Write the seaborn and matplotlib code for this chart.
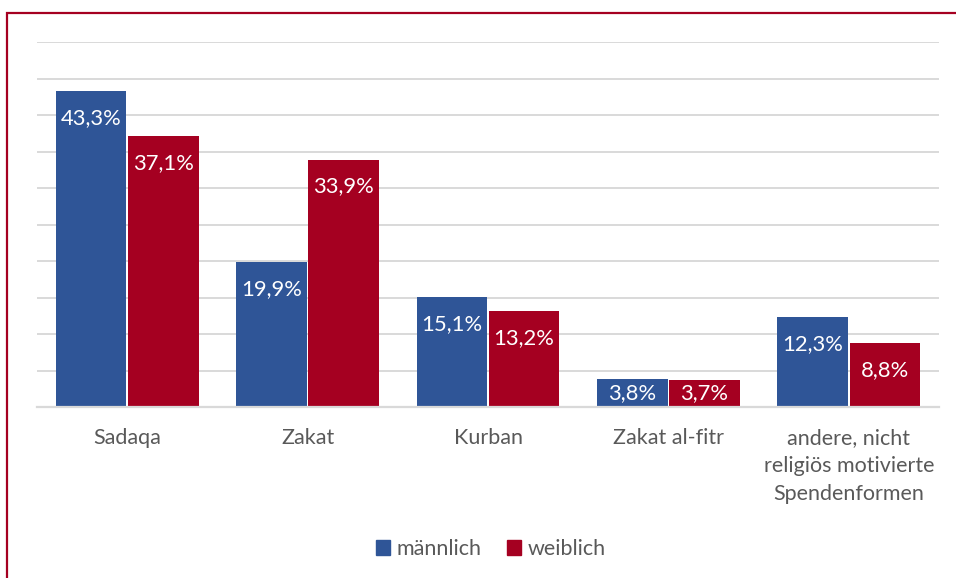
import matplotlib
matplotlib.use("Agg")
import matplotlib.pyplot as plt
import matplotlib.patches as mpatches
import seaborn as sns
import pandas as pd

categories = ["Sadaqa", "Zakat", "Kurban", "Zakat al-fitr",
              "andere, nicht\nreligiös motivierte\nSpendenformen"]
maennlich = [43.3, 19.9, 15.1, 3.8, 12.3]
weiblich = [37.1, 33.9, 13.2, 3.7, 8.8]
series = ["männlich", "weiblich"]
colors = ["#2F5597", "#A50021"]

df = pd.DataFrame({
    "Kategorie": categories * 2,
    "Wert": maennlich + weiblich,
    "Geschlecht": [series[0]] * len(categories) + [series[1]] * len(categories),
})

sns.set_theme(style="white")
plt.rcParams["font.family"] = ["Lato", "DejaVu Sans"]

W, H = 956, 578
fig = plt.figure(figsize=(W / 100, H / 100), dpi=100)
ax = fig.add_axes([37 / W, 1 - 407 / H, (939 - 37) / W, (407 - 42) / H])

sns.barplot(data=df, x="Kategorie", y="Wert", hue="Geschlecht",
            palette=colors, width=0.8, gap=0.02, ax=ax, legend=False,
            saturation=1, edgecolor="none")

ax.set_xlim(-0.5, len(categories) - 0.5)
ax.set_ylim(0, 50)
ax.set_yticks(range(0, 51, 5))
ax.yaxis.grid(True, color="#D9D9D9", linewidth=1.4)
ax.set_axisbelow(True)
ax.tick_params(axis="y", left=False, labelleft=False)
ax.tick_params(axis="x", bottom=False, pad=9, labelsize=15.5, labelcolor="#595959")
for lbl in ax.get_xticklabels():
    lbl.set_linespacing(1.5)
    lbl.set_verticalalignment("top")
for s in ["top", "left", "right"]:
    ax.spines[s].set_visible(False)
ax.spines["bottom"].set_color("#D9D9D9")
ax.spines["bottom"].set_linewidth(1.6)
ax.set_xlabel("")
ax.set_ylabel("")

# value labels
px_per_unit = (407 - 42) / 50.0
for container in ax.containers:
    for bar in container:
        v = bar.get_height()
        xc = bar.get_x() + bar.get_width() / 2
        label = f"{v:.1f}".replace(".", ",") + "%"
        if v * px_per_unit >= 54:
            ax.annotate(label, (xc, v), xytext=(0, -27 * 0.72), textcoords="offset points",
                        ha="center", va="center", color="white", fontsize=15.8)
        else:
            ax.annotate(label, (xc, v / 2), ha="center", va="center",
                        color="white", fontsize=15.8)

handles = [mpatches.Patch(color=c, label=s) for c, s in zip(colors, series)]
fig.legend(handles=handles, loc="center", bbox_to_anchor=(491 / W, 1 - 549 / H),
           ncol=2, frameon=False, fontsize=15.5, handlelength=0.65, handleheight=0.65,
           handletextpad=0.3, columnspacing=1.2, labelcolor="#595959")

border = mpatches.Rectangle((7 / W, -0.05), 1.1, 1 - 13 / H + 0.05,
                            transform=fig.transFigure, fill=False,
                            edgecolor="#A50021", linewidth=1.6, clip_on=False)
fig.patches.append(border)

fig.savefig("out.png", dpi=100)
